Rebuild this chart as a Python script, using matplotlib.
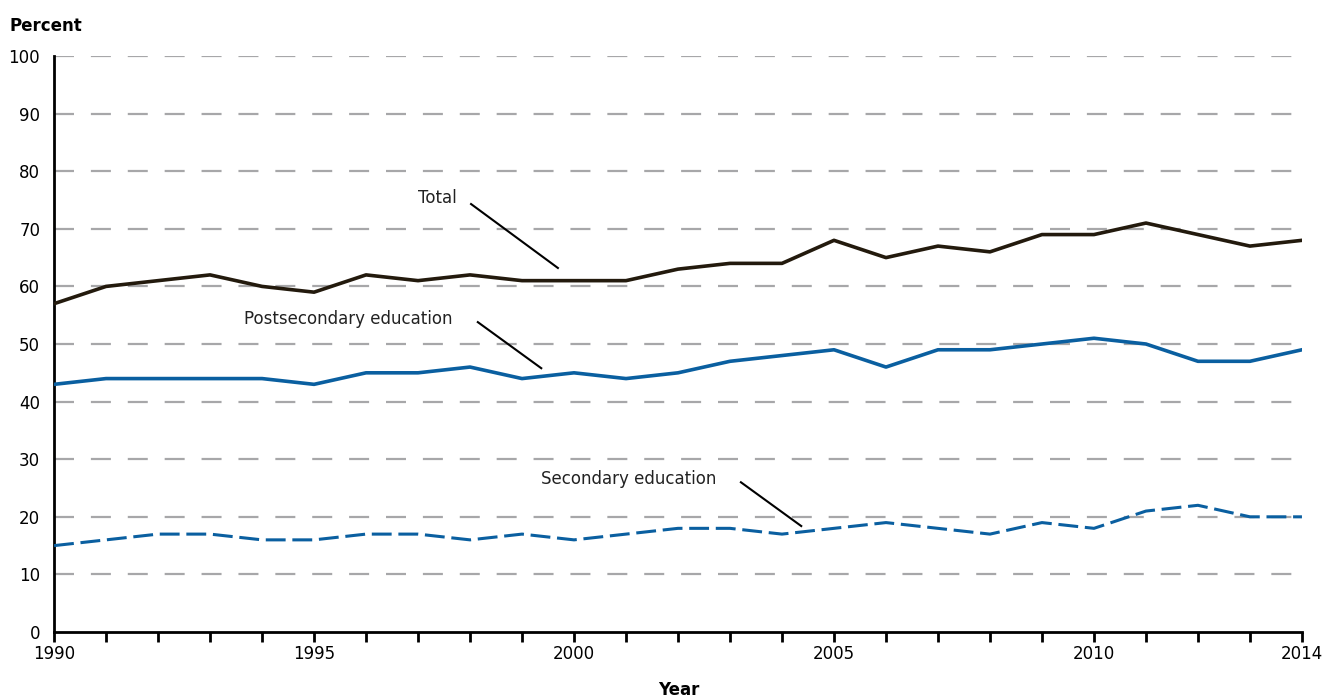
import matplotlib.pyplot as plt

# data
years = list(range(1990, 2015))
total = [57, 60, 61, 62, 60, 59, 62, 61, 62, 61, 61, 61, 63, 64, 64, 68, 65, 67, 66, 69, 69, 71, 69, 67, 68]
postsecondary = [43, 44, 44, 44, 44, 43, 45, 45, 46, 44, 45, 44, 45, 47, 48, 49, 46, 49, 49, 50, 51, 50, 47, 47, 49]
secondary = [15, 16, 17, 17, 16, 16, 17, 17, 16, 17, 16, 17, 18, 18, 17, 18, 19, 18, 17, 19, 18, 21, 22, 20, 20]
tick_labels = ['1990', '1995', '2000', '2005', '2010', '2014']

plt.rcParams['font.family'] = ['DejaVu Sans']

fig = plt.figure(figsize=(13.25, 7), dpi=100)
ax = fig.add_axes([0.0408, 0.0971, 0.9418, 0.8229])

# gridlines
for v in range(10, 101, 10):
    ax.axhline(v, color='#a7a7a9', lw=1.6, dashes=(9, 7.6), zorder=1)

ax.plot(years, total, color='#231a0d', lw=2.6, zorder=3)
ax.plot(years, postsecondary, color='#0a5fa0', lw=2.6, zorder=3)
ax.plot(years, secondary, color='#0a5fa0', lw=2.2, dashes=(6.5, 2.2), zorder=3)

# labels with leader lines
fs = 12
ax.text(1997.38, 75.3, 'Total', ha='center', va='center', fontsize=fs, color='#222222')
ax.plot([1998.02, 1999.69], [74.3, 63.2], color='black', lw=1.5)
ax.text(1995.65, 54.3, 'Postsecondary education', ha='center', va='center', fontsize=fs, color='#222222')
ax.plot([1998.15, 1999.37], [53.8, 45.8], color='black', lw=1.5)
ax.text(2001.06, 26.6, 'Secondary education', ha='center', va='center', fontsize=fs, color='#222222')
ax.plot([2003.21, 2004.37], [26.0, 18.4], color='black', lw=1.5)

ax.set_xlim(1990, 2014)
ax.set_ylim(0, 100)
ax.set_xticks(years)
ax.set_xticklabels([str(y) if str(y) in tick_labels else '' for y in years])
ax.set_yticks(range(0, 101, 10))
ax.tick_params(axis='x', direction='out', length=7, width=2, labelsize=fs, pad=2)
ax.tick_params(axis='y', length=0, labelsize=fs, pad=10)

for s in ['top', 'right']:
    ax.spines[s].set_visible(False)
ax.spines['left'].set_linewidth(2)
ax.spines['bottom'].set_linewidth(2)

fig.text(0.0075, 0.963, 'Percent', fontsize=fs, fontweight='bold', ha='left', va='center')
fig.text(0.512, 0.014, 'Year', fontsize=fs, fontweight='bold', ha='center', va='center')

fig.savefig('out.png', dpi=100)
